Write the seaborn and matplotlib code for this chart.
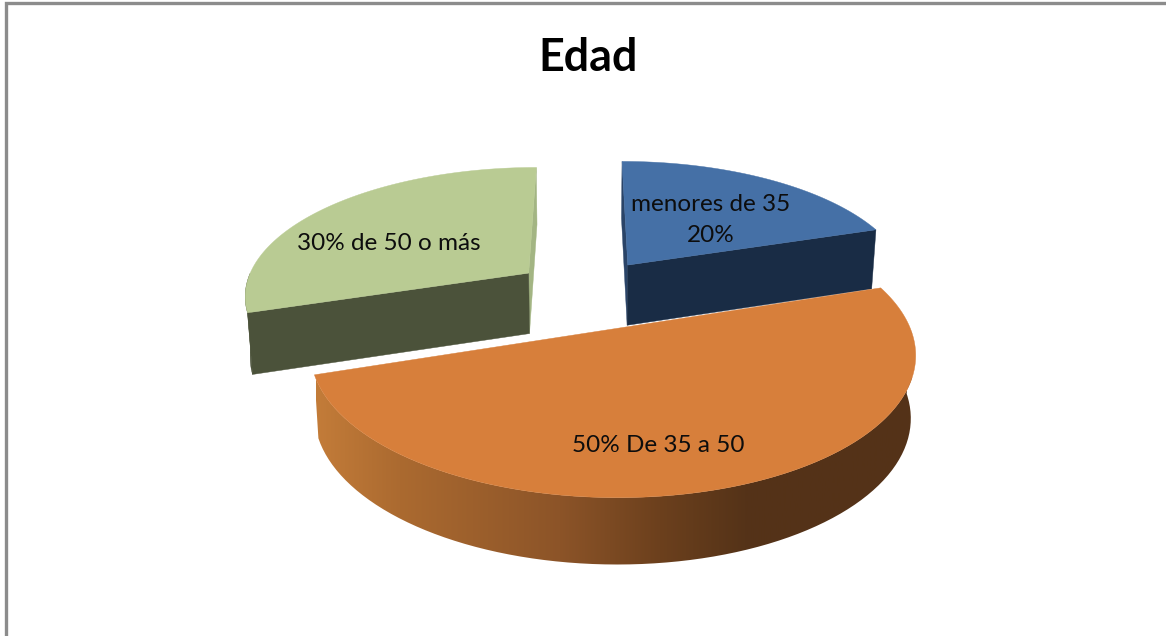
import numpy as np
import matplotlib
matplotlib.use("Agg")
import matplotlib.pyplot as plt
from matplotlib.colors import to_rgb
from matplotlib.path import Path
from matplotlib.patches import PathPatch
import seaborn as sns

# Chart data
categories = ["menores de 35", "De 35 a 50", "de 50 o más"]
shares = [20, 50, 30]
title = "Edad"

top_colors = ["#4570A6", "#D77F3B", "#B9CB93"]
cut_colors = ["#192C45", "#A9682F", "#4B523A"]
side_colors = ["#2A4468", "#A9682F", "#A3B583"]
explode = [0.264, 0.295, 0.25]

# Projection of the tilted pie onto the canvas
CX, CY = 585.0, 291.5
SCALE_X, SCALE_Y = 285.0, 128.0
PERSP = 0.16
DEPTH = 61.0
DEPTH_PERSP = 0.015


def project(x, y, z=0.0):
    x, y = np.asarray(x, float), np.asarray(y, float)
    w = 1 + PERSP * y
    u = CX + SCALE_X * x / (w * (1 + DEPTH_PERSP * z))
    v = CY - SCALE_Y * y / w + DEPTH * z / w ** 0.4
    return np.column_stack([u, v])


def rim_gradient():
    stops_u = [316, 400, 560, 660, 745, 912]
    stops = np.array([to_rgb(c) for c in
                      ["#C37C39", "#AB6A30", "#8C5428", "#6C401D", "#553318", "#543218"]])
    us = np.linspace(stops_u[0], stops_u[-1], 600)
    return np.stack([np.interp(us, stops_u, stops[:, i]) for i in range(3)], axis=-1)[None, :, :]


sns.set_theme(style="white")
plt.rcParams["font.family"] = ["Lato", "DejaVu Sans"]

fig = plt.figure(figsize=(11.66, 6.36), dpi=100, facecolor="white")
ax = fig.add_axes([0, 0, 1, 1])
ax.axis("off")

# Frame of the chart area
ax.plot([6, 6, 1166], [636, 3, 3], color="#8C8C8C", lw=2.4, solid_joinstyle="miter", zorder=1)

edges = np.cumsum([0] + shares) / sum(shares) * 2 * np.pi
wedges = []
for i, share in enumerate(shares):
    a0, a1 = edges[i], edges[i + 1]
    mid = (a0 + a1) / 2
    wedges.append((a0, a1, explode[i] * np.sin(mid), explode[i] * np.cos(mid)))


def wall(ox, oy, ang, color, z):
    pts = np.vstack([project([ox, ox + np.sin(ang)], [oy, oy + np.cos(ang)]),
                     project([ox + np.sin(ang), ox], [oy + np.cos(ang), oy], 1.0)])
    ax.fill(pts[:, 0], pts[:, 1], color=color, lw=0.3, zorder=z)


# Back slices first so the front slice overlaps them
for i in (2, 0, 1):
    a0, a1, ox, oy = wedges[i]
    z = 2 + (2, 0, 1).index(i) * 2
    theta = np.linspace(a0, a1, 181)

    if i != 1:
        near, far = (a1, a0) if i == 0 else (a0, a1)
        wall(ox, oy, far, side_colors[i], z)
        wall(ox, oy, near, cut_colors[i], z)

    # Outer rim, only where it faces the viewer
    front = theta[np.cos(theta) < 0]
    if front.size > 1:
        fx, fy = ox + np.sin(front), oy + np.cos(front)
        rim = np.vstack([project(fx, fy), project(fx, fy, 1.0)[::-1]])
        if i == 1:
            image = ax.imshow(rim_gradient(), extent=(316, 912, 636, 0), aspect="auto", zorder=z)
            clip = PathPatch(Path(np.vstack([rim, rim[:1]])), transform=ax.transData)
            image.set_clip_path(clip)
        else:
            ax.fill(rim[:, 0], rim[:, 1], color=cut_colors[i], lw=0.3, zorder=z)

    top = project(ox + np.sin(theta), oy + np.cos(theta))
    outline = np.vstack([project([ox], [oy]), top])
    ax.fill(outline[:, 0], outline[:, 1], color=top_colors[i], lw=0.3, zorder=z + 1)

ax.set_xlim(0, 1166)
ax.set_ylim(636, 0)

# Slice labels
label_style = dict(ha="center", va="center", color="#0d0d0d", fontsize=17.5, zorder=10)
ax.text(711, 220, f"{categories[0]}\n{shares[0]}%", linespacing=1.6, **label_style)
ax.text(658, 446, f"{shares[1]}% {categories[1]}", **label_style)
ax.text(389, 244, f"{shares[2]}% {categories[2]}", **label_style)

ax.text(588, 58, title, ha="center", va="center", fontsize=32.3, fontweight="bold", color="black", zorder=10)

fig.savefig("out.png", dpi=100)
